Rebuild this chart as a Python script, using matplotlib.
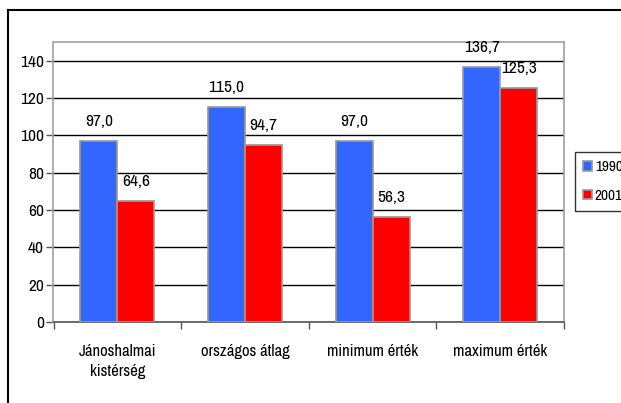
import matplotlib
matplotlib.use("Agg")
import matplotlib.pyplot as plt
from matplotlib.lines import Line2D
from matplotlib import font_manager
import numpy as np

categories = ["Jánoshalmai\nkistérség", "országos átlag", "minimum érték", "maximum érték"]
series_names = ["1990", "2001"]
values_1990 = [97.0, 115.0, 97.0, 136.7]
values_2001 = [64.6, 94.7, 56.3, 125.3]
y_ticks = [0, 20, 40, 60, 80, 100, 120, 140]

names = {f.name for f in font_manager.fontManager.ttflist}
fam = "Archivo Narrow" if "Archivo Narrow" in names else "Liberation Sans"
plt.rcParams['font.family'] = [fam, 'DejaVu Sans']

fig = plt.figure(figsize=(6.21, 4.03), dpi=100)
W, H = 621, 403
ax = fig.add_axes([53.5 / W, 1 - 322 / H, (564 - 53.5) / W, (322 - 42) / H])

x = np.arange(len(categories))
bw = 0.29
colors = ["#3366FF", "#FF0000"]
for i, (vals, c) in enumerate(zip([values_1990, values_2001], colors)):
    pos = x + (i - 0.5) * bw
    ax.bar(pos, vals, bw, color=c, edgecolor="#9a9a9a", linewidth=1.2, label=series_names[i], zorder=3)
    for p, v in zip(pos, vals):
        ax.annotate(f"{v:.1f}".replace(".", ","), (p, v), xytext=(0, 14), textcoords="offset points",
                    ha="center", va="center", fontsize=12.5, zorder=4)

ax.set_xlim(-0.5, len(categories) - 0.5)
ax.set_ylim(0, 150)
ax.set_yticks(y_ticks)
ax.set_yticklabels([str(t) for t in y_ticks], fontsize=12.5)
ax.yaxis.grid(True, color="black", linewidth=1, zorder=0)
ax.set_axisbelow(True)

ax.set_xticks(x)
ax.set_xticklabels(categories, fontsize=12, linespacing=1.4)
ax.set_xticks(np.arange(len(categories) + 1) - 0.5, minor=True)
ax.tick_params(axis="x", which="major", length=0, pad=16)
ax.tick_params(axis="x", which="minor", length=5, direction="out", color="#555555", width=1)
ax.tick_params(axis="y", length=5, direction="out", color="#555555", width=1, pad=2)

for s in ["top", "right", "left"]:
    ax.spines[s].set_color("#a0a0a0")
    ax.spines[s].set_linewidth(1.2)
ax.spines["bottom"].set_color("#555555")
ax.spines["bottom"].set_linewidth(1.2)

# outer frame (top and left edges visible)
fig.add_artist(Line2D([7.5 / W, 1.0], [1 - 10 / H, 1 - 10 / H], transform=fig.transFigure, color="black", linewidth=1.5))
fig.add_artist(Line2D([7.5 / W, 7.5 / W], [0, 1 - 10 / H], transform=fig.transFigure, color="black", linewidth=1.5))

leg = fig.legend(loc="upper left", bbox_to_anchor=(575 / W, 1 - 152 / H), frameon=True, fontsize=11,
                 handlelength=0.55, handleheight=0.55, handletextpad=0.2, borderpad=0.55,
                 borderaxespad=0, labelspacing=0.95, fancybox=False, edgecolor="black")
leg.get_frame().set_linewidth(1)

fig.savefig("out.png", dpi=100)
